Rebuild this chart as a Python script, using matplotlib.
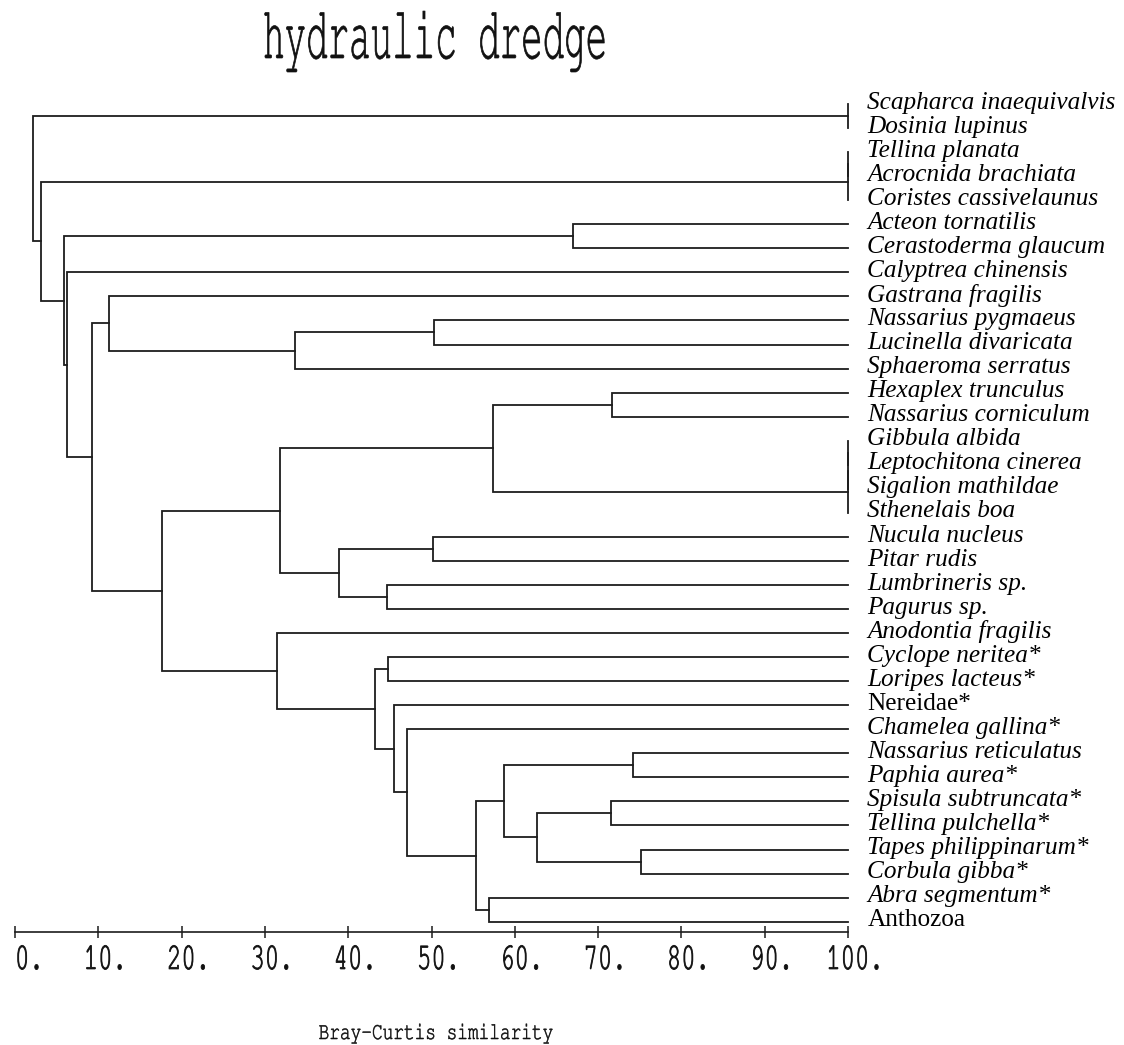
import matplotlib
matplotlib.use("Agg")
import matplotlib.pyplot as plt
from matplotlib.patheffects import AbstractPathEffect
from matplotlib.transforms import Affine2D, offset_copy

TITLE = "hydraulic dredge"
XLABEL = "Bray-Curtis similarity"

LEAVES = [
    "Scapharca inaequivalvis", "Dosinia lupinus", "Tellina planata",
    "Acrocnida brachiata", "Coristes cassivelaunus", "Acteon tornatilis",
    "Cerastoderma glaucum", "Calyptrea chinensis", "Gastrana fragilis",
    "Nassarius pygmaeus", "Lucinella divaricata", "Sphaeroma serratus",
    "Hexaplex trunculus", "Nassarius corniculum", "Gibbula albida",
    "Leptochitona cinerea", "Sigalion mathildae", "Sthenelais boa",
    "Nucula nucleus", "Pitar rudis", "Lumbrineris sp.", "Pagurus sp.",
    "Anodontia fragilis", "Cyclope neritea*", "Loripes lacteus*",
    "Nereidae*", "Chamelea gallina*", "Nassarius reticulatus",
    "Paphia aurea*", "Spisula subtruncata*", "Tellina pulchella*",
    "Tapes philippinarum*", "Corbula gibba*", "Abra segmentum*", "Anthozoa",
]

# agglomeration steps: node ids >= len(LEAVES) refer to earlier merges (35, 36, ...)
MERGE_A = [0, 2, 36, 5, 9, 39, 8, 12, 14, 43, 44, 42, 18, 20, 47, 46,
           23, 27, 29, 31, 53, 52, 33, 56, 26, 25, 51, 22, 50, 41, 7, 38, 37, 35]
MERGE_B = [1, 3, 4, 6, 10, 11, 40, 13, 15, 16, 17, 45, 19, 21, 48, 49,
           24, 28, 30, 32, 54, 55, 34, 57, 58, 59, 60, 61, 62, 63, 64, 65, 66, 67]
MERGE_SIM = [100, 100, 100, 67.0, 50.3, 33.6, 11.3, 71.7, 100, 100, 100, 57.4,
             50.2, 44.6, 38.9, 31.8, 44.8, 74.2, 71.6, 75.1, 62.7, 58.7, 56.9,
             55.3, 47.1, 45.5, 43.2, 31.4, 17.7, 9.3, 6.3, 5.9, 3.1, 2.2]

TICKS = [0, 10, 20, 30, 40, 50, 60, 70, 80, 90, 100]
UPRIGHT = {"Nereidae*", "Anthozoa"}
LINE = "#1c1c1c"
MONO = ["FreeMono", "Courier Prime", "Liberation Mono"]


class Stretch(AbstractPathEffect):
    """Draw glyphs stretched vertically about the baseline, slightly emboldened
    (mimics the plotter lettering of the original)."""

    def __init__(self, sy, lw=0.0):
        super().__init__()
        self.sy = sy
        self.lw = lw

    def draw_path(self, renderer, gc, tpath, affine, rgbFace=None):
        gc0 = renderer.new_gc()
        gc0.copy_properties(gc)
        gc0.set_linewidth(self.lw)
        renderer.draw_path(gc0, tpath, Affine2D().scale(1, self.sy) + affine, rgbFace)
        gc0.restore()


def main():
    fig = plt.figure(figsize=(11.24, 10.45), dpi=100)
    ax = fig.add_axes([15 / 1124, 113 / 1045, 833 / 1124, 840 / 1045])

    n = len(LEAVES)
    pos = list(range(n))
    height = [100.0] * n
    for a, b, s in zip(MERGE_A, MERGE_B, MERGE_SIM):
        ya, yb = pos[a], pos[b]
        ax.plot([height[a], s, s, height[b]], [ya, ya, yb, yb],
                color=LINE, lw=1.3, solid_joinstyle="miter", clip_on=False)
        pos.append((ya + yb) / 2)
        height.append(s)

    ax.set_xlim(0, 100)
    ax.set_ylim(n - 1 + 0.43, -0.5)

    lab_trans = offset_copy(ax.transData, fig=fig, x=14, y=1, units="points")
    for i, name in enumerate(LEAVES):
        ax.text(100, i, name, transform=lab_trans, ha="left", va="center",
                family="Liberation Serif", fontsize=18.2,
                style="normal" if name in UPRIGHT else "italic")

    for side in ["left", "right", "top"]:
        ax.spines[side].set_visible(False)
    ax.spines["bottom"].set_linewidth(1.2)
    ax.spines["bottom"].set_color(LINE)
    ax.set_yticks([])
    ax.set_xticks(TICKS)
    ax.tick_params(axis="x", direction="inout", length=8, width=1.1,
                   color=LINE, labelbottom=False)

    # digits centred on the tick, trailing dot hangs to the right;
    # the first label starts at its tick as in the original
    for t in TICKS:
        first = t == TICKS[0]
        tick_trans = offset_copy(ax.get_xaxis_transform(), fig=fig,
                                 x=0 if first else 5, y=-26.6, units="points")
        ax.text(t, 0, f"{t}.", transform=tick_trans,
                ha="left" if first else "center", va="baseline",
                family=MONO, fontsize=17.2, color="#111111",
                path_effects=[Stretch(1.6, 0.6)])

    fig.text(435 / 1124, 1 - 58 / 1045, TITLE, ha="center", va="baseline",
             family=MONO, fontsize=25.8, color="#111111",
             path_effects=[Stretch(2.1, 0.5)])
    fig.text(436 / 1124, 6 / 1045, XLABEL, ha="center", va="baseline",
             family=MONO, fontsize=12.8, color="#111111",
             path_effects=[Stretch(1.37, 0.4)])

    fig.savefig("out.png", dpi=100)


if __name__ == "__main__":
    main()
